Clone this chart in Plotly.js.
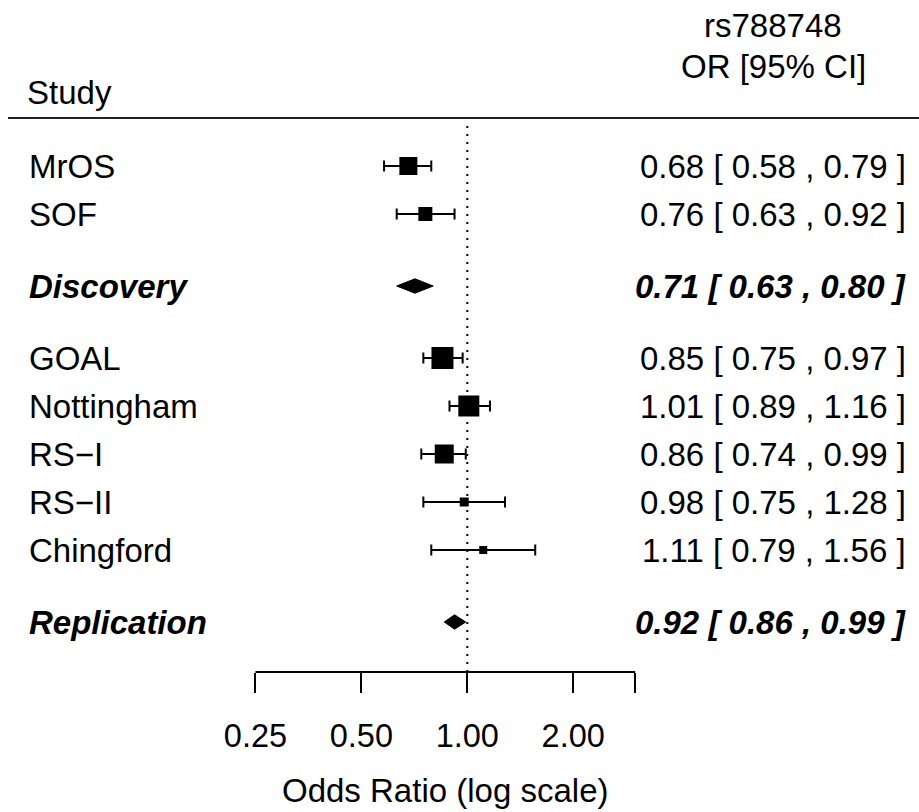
<!DOCTYPE html>
<html>
<head>
<meta charset="utf-8">
<script src="https://cdn.plot.ly/plotly-3.0.1.min.js"></script>
<style>html,body{margin:0;padding:0;background:#fff;}#chart{width:919px;height:812px;}</style>
</head>
<body>
<div id="chart"></div>
<script>
// ---- data ----
const studies = ["MrOS", "SOF", "GOAL", "Nottingham", "RS\u2212I", "RS\u2212II", "Chingford"];
const studyRows = [12, 11, 8, 7, 6, 5, 4];
const studyOR = [0.68, 0.76, 0.85, 1.01, 0.86, 0.98, 1.11];
const studyLo = [0.58, 0.63, 0.75, 0.89, 0.74, 0.75, 0.79];
const studyHi = [0.79, 0.92, 0.97, 1.16, 0.99, 1.28, 1.56];
const studyBox = [18, 14, 22, 21, 19, 9, 8];   // marker size (study weight)

const summaries = ["Discovery", "Replication"];
const summaryRows = [9.5, 2.5];
const summaryOR = [0.71, 0.92];
const summaryLo = [0.63, 0.86];
const summaryHi = [0.80, 0.99];

const tickVals = [0.25, 0.5, 1, 2, 3];
const tickText = ["0.25", "0.50", "1.00", "2.00", ""];

const snpLabel = "rs788748";
const colHeader = "OR [95% CI]";
const studyHeader = "Study";
const xTitle = "Odds Ratio (log scale)";

// ---- build ----
const FONT = "Liberation Sans, Arial, Helvetica, sans-serif";
const FS = 33;
const fmt = v => v.toFixed(2);
const ciText = (e, l, h) => fmt(e) + " [ " + fmt(l) + " , " + fmt(h) + " ]";

const traces = [];
traces.push({
  type: "scatter", mode: "markers",
  x: studyOR, y: studyRows,
  marker: {symbol: "square", size: studyBox, color: "#000", opacity: 1, line: {width: 0}},
  error_x: {
    type: "data", symmetric: false,
    array: studyHi.map((h, i) => h - studyOR[i]),
    arrayminus: studyLo.map((l, i) => studyOR[i] - l),
    color: "#000", thickness: 2, width: 5.5
  },
  hoverinfo: "skip", showlegend: false
});

const DH = 0.15;
summaries.forEach((s, i) => {
  const r = summaryRows[i];
  traces.push({
    type: "scatter", mode: "lines",
    x: [summaryLo[i], summaryOR[i], summaryHi[i], summaryOR[i], summaryLo[i]],
    y: [r, r + DH, r, r - DH, r],
    fill: "toself", fillcolor: "#000",
    line: {color: "#000", width: 1},
    hoverinfo: "skip", showlegend: false
  });
});

const annotations = [];
const XL = 27 / 919, XR = 908 / 919, XH = 773 / 919;
const tf = {size: FS, color: "#000", family: FONT};
studies.forEach((s, i) => {
  annotations.push({text: s, xref: "paper", yref: "y", x: XL, y: studyRows[i],
    xanchor: "left", yanchor: "middle", showarrow: false, font: tf});
  annotations.push({text: ciText(studyOR[i], studyLo[i], studyHi[i]), xref: "paper", yref: "y", x: XR, y: studyRows[i],
    xanchor: "right", yanchor: "middle", showarrow: false, font: tf});
});
summaries.forEach((s, i) => {
  annotations.push({text: "<b><i>" + s + "</i></b>", xref: "paper", yref: "y", x: XL, y: summaryRows[i],
    xanchor: "left", yanchor: "middle", showarrow: false, font: tf});
  annotations.push({text: "<b><i>" + ciText(summaryOR[i], summaryLo[i], summaryHi[i]) + "</i></b>", xref: "paper", yref: "y", x: XR, y: summaryRows[i],
    xanchor: "right", yanchor: "middle", showarrow: false, font: tf});
});
annotations.push({text: studyHeader, xref: "paper", yref: "y", x: 25 / 919, y: 13.54,
  xanchor: "left", yanchor: "middle", showarrow: false, font: tf});
annotations.push({text: snpLabel, xref: "paper", yref: "y", x: XH, y: 14.92,
  xanchor: "center", yanchor: "middle", showarrow: false, font: tf});
annotations.push({text: colHeader, xref: "paper", yref: "y", x: XH, y: 14.07,
  xanchor: "center", yanchor: "middle", showarrow: false, font: tf});
// x-axis label centred under the drawn axis (log10 units for annotations on a log axis)
const axMid = (Math.log10(tickVals[0]) + Math.log10(tickVals[tickVals.length - 1])) / 2;
annotations.push({text: xTitle, xref: "x", yref: "paper", x: axMid, y: -0.176,
  xanchor: "center", yanchor: "middle", showarrow: false, font: tf});

const shapes = [
  // header rule
  {type: "line", xref: "paper", yref: "y", x0: 8 / 919, x1: 1, y0: 13, y1: 13, line: {color: "#222", width: 2}},
  // reference line at OR = 1
  {type: "line", xref: "x", yref: "y", x0: 1, x1: 1, y0: 1.46, y1: 12.9, line: {color: "#000", width: 2, dash: "2px,6px"}},
  // axis line
  {type: "line", xref: "x", yref: "paper", x0: tickVals[0], x1: tickVals[tickVals.length - 1], y0: 0, y1: 0, line: {color: "#000", width: 2}}
];

const layout = {
  width: 919, height: 812,
  margin: {l: 0, r: 0, t: 0, b: 140},
  paper_bgcolor: "#fff", plot_bgcolor: "#fff",
  showlegend: false,
  xaxis: {
    type: "log", range: [-1.3283, 1.2840], fixedrange: true,
    showgrid: false, zeroline: false, showline: false,
    tickmode: "array", tickvals: tickVals, ticktext: tickText,
    ticks: "outside", ticklen: 20, tickwidth: 2, tickcolor: "#000",
    tickfont: {size: 32.5, color: "#000", family: FONT},
    ticklabelstandoff: 15
  },
  yaxis: {range: [1.4583, 15.4583], visible: false, fixedrange: true},
  annotations: annotations,
  shapes: shapes
};

Plotly.newPlot("chart", traces, layout, {displayModeBar: false, staticPlot: true});
</script>
</body>
</html>
